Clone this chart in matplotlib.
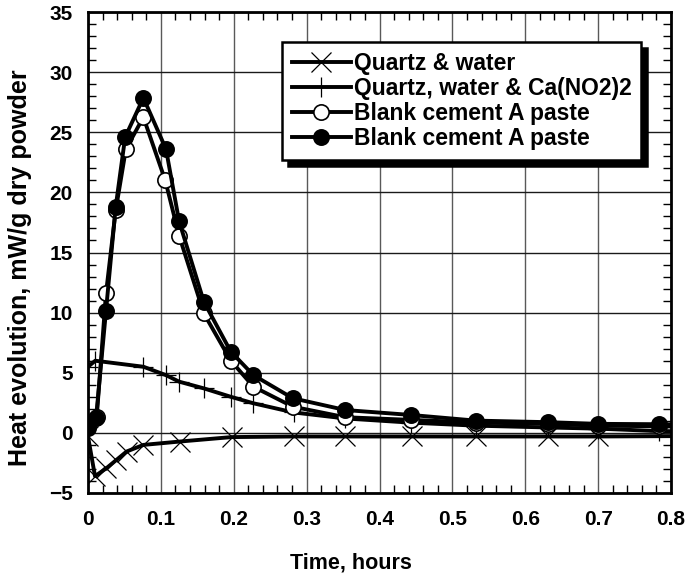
import numpy as np
import matplotlib.pyplot as plt
from matplotlib.ticker import MultipleLocator

plt.rcParams['font.family'] = ['Liberation Sans', 'DejaVu Sans']
plt.rcParams['font.weight'] = 'bold'

# Quartz & water
t_qw = [0, 0.0096, 0.025, 0.039, 0.053, 0.076, 0.126, 0.197, 0.282, 0.353,
        0.444, 0.532, 0.631, 0.70, 0.87]
v_qw = [-0.3, -3.6, -2.95, -2.25, -1.55, -1.0, -0.72, -0.35, -0.3, -0.3,
        -0.3, -0.3, -0.3, -0.3, -0.25]

# Quartz, water & Ca(NO2)2
t_qc = [0, 0.010, 0.076, 0.107, 0.125, 0.159, 0.196, 0.227, 0.282, 0.353,
        0.443, 0.532, 0.631, 0.70, 0.783, 0.87]
v_qc = [5.5, 6.0, 5.5, 4.8, 4.26, 3.7, 3.0, 2.46, 1.7, 1.2,
        0.85, 0.6, 0.45, 0.35, 0.15, 0.1]

# Blank cement A paste (open)
t_open = [0, 0.012, 0.0247, 0.038, 0.052, 0.076, 0.106, 0.125, 0.159, 0.196,
          0.227, 0.281, 0.353, 0.443, 0.532, 0.631, 0.70, 0.783, 0.87]
v_open = [0.66, 1.35, 11.6, 18.5, 23.6, 26.25, 21.0, 16.4, 9.93, 6.0,
          3.84, 2.18, 1.3, 1.08, 0.86, 0.75, 0.6, 0.55, 0.45]

# Blank cement A paste (filled)
t_fill = [0, 0.011, 0.0247, 0.038, 0.051, 0.076, 0.107, 0.125, 0.159, 0.196,
          0.227, 0.281, 0.353, 0.443, 0.532, 0.631, 0.70, 0.783, 0.87]
v_fill = [0.41, 1.22, 10.15, 18.8, 24.6, 27.86, 23.6, 17.6, 10.9, 6.75,
          4.8, 2.88, 1.9, 1.49, 1.02, 0.89, 0.75, 0.72, 0.65]

labels = ["Quartz & water", "Quartz, water & Ca(NO2)2",
          "Blank cement A paste", "Blank cement A paste"]
xtick_labels = ['0', '0.1', '0.2', '0.3', '0.4', '0.5', '0.6', '0.7', '0.8']

fig = plt.figure(figsize=(6.87, 5.73), dpi=100)
ax = fig.add_axes([88 / 687, 1 - 493 / 573, 583 / 687, 481 / 573])

lw = 2.8
ax.plot(t_qw, v_qw, color='black', lw=lw, marker='x', ms=14, mew=0.9,
        label=labels[0])
ax.plot(t_qc, v_qc, color='black', lw=lw, marker='+', ms=14, mew=0.9,
        label=labels[1])
ax.plot(t_open, v_open, color='black', lw=lw, marker='o', ms=11, mfc='white',
        mec='black', mew=1.2, label=labels[2])
ax.plot(t_fill, v_fill, color='black', lw=lw, marker='o', ms=11, mfc='black',
        mec='black', mew=1.2, label=labels[3])

ax.set_xlim(0, 0.8)
ax.set_ylim(-5, 35)
ax.xaxis.set_minor_locator(MultipleLocator(0.02))
ax.yaxis.set_major_locator(MultipleLocator(5))
ax.yaxis.set_minor_locator(MultipleLocator(1))
ax.set_xticks(np.arange(0, 0.81, 0.1))
ax.set_xticklabels(xtick_labels)

ax.grid(True, which='major', axis='x', color='0.35', lw=1)
ax.grid(True, which='major', axis='y', color='0.1', lw=1)
ax.set_axisbelow(True)
ax.tick_params(which='both', direction='in', top=True, right=True,
               labelsize=15, width=1)
ax.tick_params(which='major', length=0)
ax.tick_params(axis='y', which='major', pad=11)
ax.tick_params(axis='x', which='major', pad=12)
ax.tick_params(which='minor', length=6)
for s in ax.spines.values():
    s.set_linewidth(2)

ax.set_xlabel("Time, hours", fontsize=15.5, fontweight='bold')
ax.xaxis.set_label_coords((351 - 88) / 583, (493 - 552) / 481)
ax.set_ylabel("Heat evolution, mW/g dry powder", fontsize=18,
              fontweight='bold')
ax.yaxis.set_label_coords((32 - 88) / 583, (493 - 268) / 481)

leg = ax.legend(loc='upper left', bbox_to_anchor=(282 / 687, 1 - 42 / 573),
                bbox_transform=fig.transFigure, borderaxespad=0,
                fontsize=16.5, frameon=True, fancybox=False,
                edgecolor='black', framealpha=1, handlelength=2.6,
                handletextpad=0.12, labelspacing=0.1, borderpad=0.42,
                shadow={'ox': 4, 'oy': -4, 'color': 'black', 'alpha': 1})
leg.get_frame().set_linewidth(1.8)
for txt in leg.get_texts():
    txt.set_fontweight('bold')

fig.savefig('out.png', dpi=100)
